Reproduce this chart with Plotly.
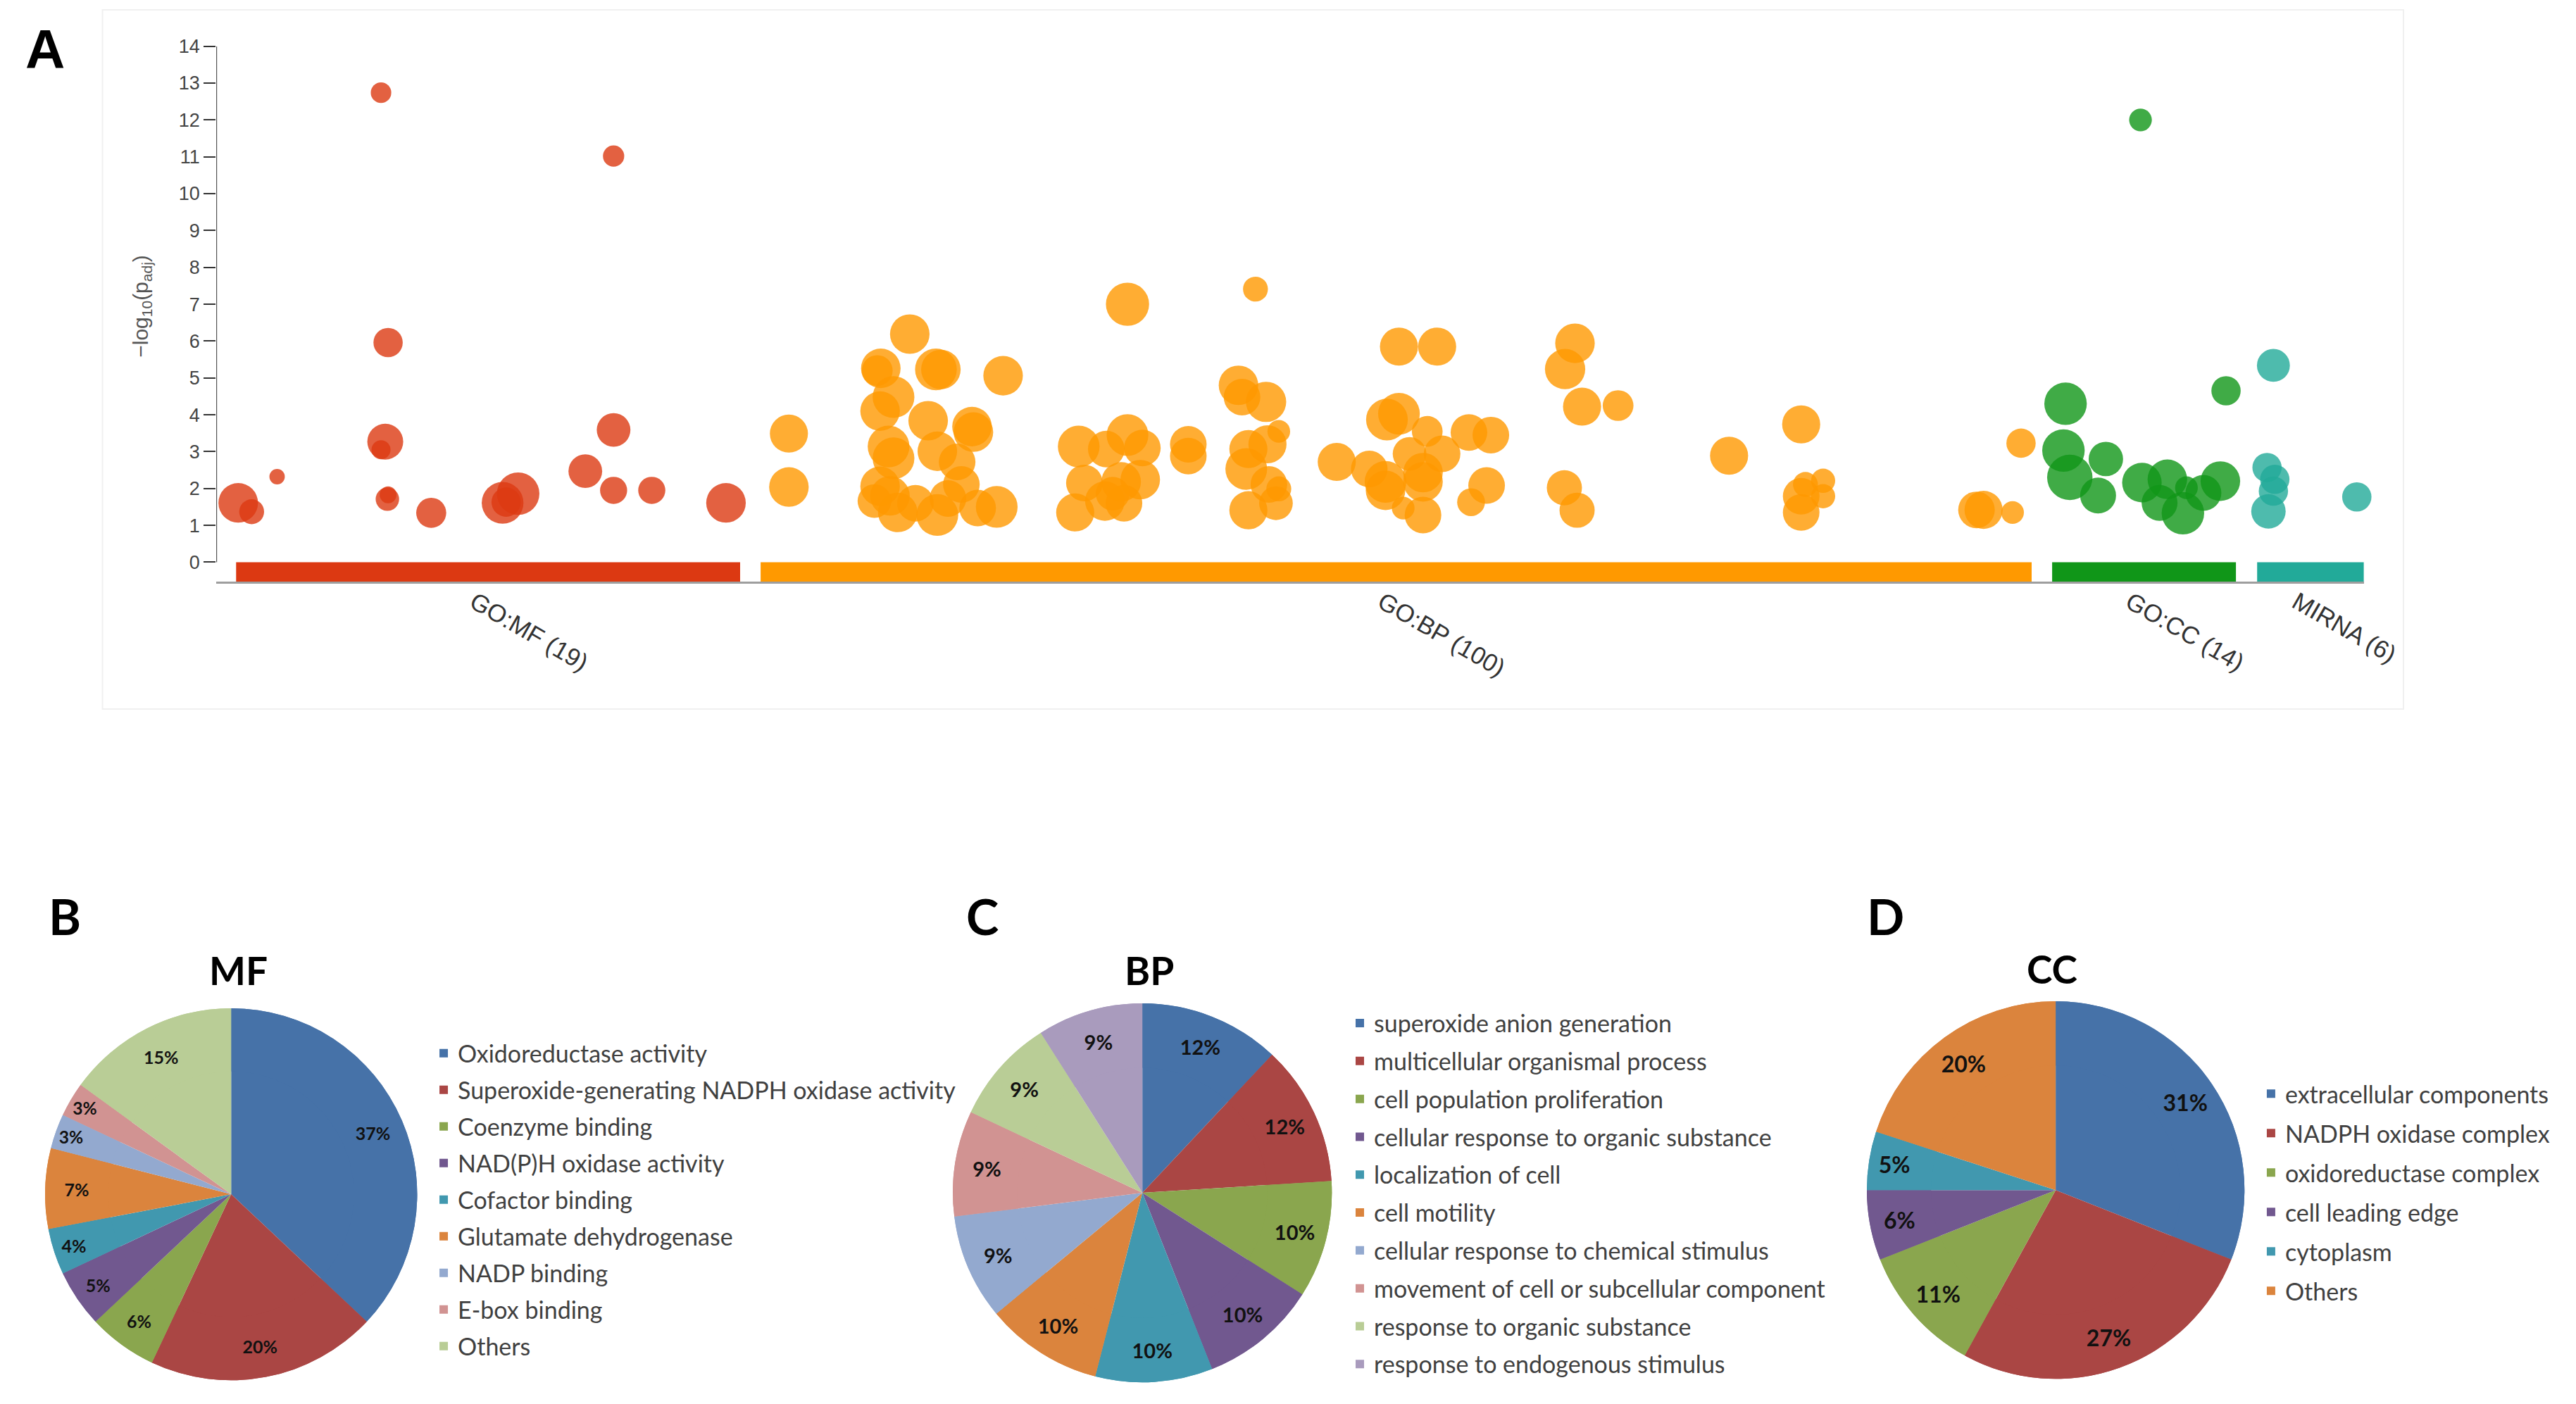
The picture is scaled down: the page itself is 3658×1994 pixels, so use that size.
import plotly.graph_objects as go

W, H = 3658, 1994

# ---------------- Panel A data (Manhattan plot) ----------------
sources = ["GO:MF", "GO:BP", "GO:CC", "MIRNA"]
source_counts = [19, 100, 14, 6]
source_start = [28, 770, 2597, 2887]
source_end = [741, 2568, 2857, 3038]
source_colors = ["#dc3912", "#ff9900", "#109618", "#22aa99"]

mf_pos = [31, 50, 86, 233, 243, 239, 233, 242, 243, 304, 405, 427, 522, 562, 562, 562, 616, 721, 410]
mf_logp = [1.61, 1.37, 2.32, 12.74, 5.96, 3.27, 3.05, 1.71, 1.83, 1.34, 1.61, 1.86, 2.47, 11.02, 3.59, 1.95, 1.95, 1.61, 1.63]
mf_size = [54, 34, 21, 28, 40, 49, 26, 32, 23, 41, 57, 58, 46, 29, 46, 37, 37, 54, 40]

bp_pos = [810, 810, 981, 940, 935, 1018, 1025, 1113, 958, 939, 1007, 1069, 1071, 951, 958, 1020,
          1048, 939, 953, 964, 989, 1020, 1035, 1054, 1077, 1104, 931, 1220, 1259, 1289, 1310, 1228,
          1307, 1280, 1215, 1257, 1284, 1268, 1289,
          1470, 1375, 1375, 1446, 1451, 1485, 1503, 1460, 1487, 1457, 1489, 1503, 1460, 1499, 1673,
          1727, 1585, 1631, 1656, 1673, 1713, 1734, 1654, 1654, 1707, 1707, 1679, 1707, 1688, 1772,
          1803, 1797, 1775,
          1922, 1908, 1932, 1983, 1907, 1925, 2140, 2242, 2273, 2248, 2242, 2273, 2242,
          2490, 2500, 2541, 2553]
bp_logp = [3.49, 2.04, 6.19, 5.26, 5.20, 5.23, 5.23, 5.06, 4.48, 4.10, 3.84, 3.68, 3.53, 3.14, 2.82, 3.01,
           2.72, 2.06, 1.80, 1.35, 1.60, 1.28, 1.73, 2.11, 1.47, 1.50, 1.66, 3.14, 3.07, 3.45, 3.10, 2.15,
           2.24, 2.18, 1.35, 1.66, 1.60, 1.86, 7.00,
           7.41, 3.20, 2.88, 4.80, 4.48, 4.35, 3.55, 3.07, 3.20, 2.53, 2.11, 1.99, 1.41, 1.60, 5.85,
           5.85, 2.72, 2.53, 3.87, 4.03, 3.55, 2.94, 2.18, 1.95, 2.43, 2.18, 1.47, 1.28, 2.94, 3.52,
           3.45, 2.08, 1.63,
           5.94, 5.24, 4.22, 4.25, 2.02, 1.41, 2.89, 3.74, 2.21, 2.11, 1.79, 1.79, 1.35,
           1.42, 1.42, 1.35, 3.23]
bp_size = [52, 54, 54, 54, 42, 57, 54, 54, 57, 54, 54, 54, 54, 57, 57, 54,
           50, 54, 54, 54, 50, 57, 50, 50, 50, 57, 46, 57, 50, 57, 50, 50,
           54, 54, 52, 54, 50, 46, 59,
           34, 50, 50, 54, 50, 55, 31, 52, 52, 57, 50, 34, 52, 46, 52,
           52, 52, 50, 57, 57, 42, 50, 57, 54, 54, 54, 31, 50, 46, 50,
           50, 50, 38,
           54, 55, 52, 42, 48, 48, 52, 52, 33, 34, 50, 33, 50,
           50, 52, 31, 40]

cc_pos = [2722, 2616, 2613, 2622, 2673, 2662, 2724, 2760, 2749, 2782, 2787, 2811, 2835, 2843]
cc_logp = [12.0, 4.30, 3.03, 2.30, 2.80, 1.81, 2.16, 2.25, 1.61, 1.33, 2.02, 1.88, 2.20, 4.65]
cc_size = [31, 58, 58, 62, 47, 49, 54, 54, 49, 58, 31, 49, 54, 40]

mirna_pos = [2910, 2901, 2912, 2910, 2903, 3028]
mirna_logp = [5.34, 2.57, 2.25, 1.93, 1.38, 1.77]
mirna_size = [45, 40, 40, 40, 47, 40]

# ---------------- Panels B-D data (pie charts) ----------------
mf_labels = ["Oxidoreductase activity", "Superoxide-generating NADPH oxidase activity",
             "Coenzyme binding", "NAD(P)H oxidase activity", "Cofactor binding",
             "Glutamate dehydrogenase", "NADP binding", "E-box binding", "Others"]
mf_values = [37, 20, 6, 5, 4, 7, 3, 3, 15]

bp_labels = ["superoxide anion generation", "multicellular organismal process",
             "cell population proliferation", "cellular response to organic substance",
             "localization of cell", "cell motility", "cellular response to chemical stimulus",
             "movement of cell or subcellular component", "response to organic substance",
             "response to endogenous stimulus"]
bp_values = [12, 12, 10, 10, 10, 10, 9, 9, 9, 9]

cc_labels = ["extracellular components", "NADPH oxidase complex", "oxidoreductase complex",
             "cell leading edge", "cytoplasm", "Others"]
cc_values = [31, 27, 11, 6, 5, 20]

pie_palette = ["#4672A8", "#AA4644", "#8AA64E", "#71588F", "#4198AF",
               "#DB843D", "#93A9CF", "#D19392", "#B9CD96", "#A99BBD"]
mf_colors = pie_palette[:8] + [pie_palette[8]]
bp_colors = pie_palette[:10]
cc_colors = pie_palette[:6]

# ---------------- styling / layout helpers ----------------
FONT_A = "Liberation Sans, Arial, Helvetica, sans-serif"
FONT_P = "Lato, Carlito, Calibri, sans-serif"
K = 1.0183                       # horizontal layout scale


def px(x):
    return x * K / W


def py(y):
    return 1 - y / H


AX_BOTTOM, AX_ZERO, AX_TOP = 818, 790, 52          # pixel rows of panel A y axis
UNIT = (AX_ZERO - AX_TOP) / 14.0
Y_MIN = -(AX_BOTTOM - AX_ZERO) / UNIT
Y_MAX = 14.001
SIZE_SCALE = 1.04

fig = go.Figure()

# Manhattan scatter points
for name, pos, lp, sz, col in zip(
        sources,
        [mf_pos, bp_pos, cc_pos, mirna_pos],
        [mf_logp, bp_logp, cc_logp, mirna_logp],
        [mf_size, bp_size, cc_size, mirna_size],
        source_colors):
    fig.add_trace(go.Scatter(
        x=pos, y=lp, mode="markers", name=name, showlegend=False,
        marker=dict(size=[s * SIZE_SCALE for s in sz], color=col, opacity=0.8, line=dict(width=0)),
        cliponaxis=False, hovertemplate=name + "<br>-log10(padj)=%{y}<extra></extra>"))

# source bars along the x axis
for s, e, c in zip(source_start, source_end, source_colors):
    fig.add_shape(type="rect", xref="x", yref="y", x0=s, x1=e, y0=Y_MIN, y1=0,
                  fillcolor=c, line=dict(width=0), layer="below")

# y axis line from 0 to 14
fig.add_shape(type="line", xref="x", yref="y", x0=0, x1=0, y0=0, y1=14,
              line=dict(color="#333333", width=2))

# faint frame of panel A
fig.add_shape(type="rect", xref="paper", yref="paper",
              x0=px(145), x1=px(3400), y0=py(1000), y1=1.0,
              line=dict(color="#f0f0f0", width=2), fillcolor="rgba(0,0,0,0)", layer="below")

tick_centers = [(s + e) / 2 for s, e in zip(source_start, source_end)]
tick_text = [f"{s} ({n})" for s, n in zip(sources, source_counts)]


# pies: a full pie plus an identical ring on top that carries the percentage labels
def pie_dom(cx, cy, r):
    return dict(x=[(cx * K - r) / W, (cx * K + r) / W], y=[py(cy + r), py(cy - r)])


pie_specs = [
    ("MF", mf_labels, mf_values, mf_colors, pie_dom(327, 1694, 268), 25),
    ("BP", bp_labels, bp_values, bp_colors, pie_dom(1616, 1692, 273), 29),
    ("CC", cc_labels, cc_values, cc_colors, pie_dom(2908, 1688, 272), 32),
]
for name, labels, values, colors, dom, fs in pie_specs:
    common = dict(labels=labels, values=values, sort=False, direction="clockwise", rotation=0,
                  marker=dict(colors=colors, line=dict(width=0)), domain=dom, showlegend=False)
    fig.add_trace(go.Pie(name=name, textinfo="none", hoverinfo="label+percent", **common))
    fig.add_trace(go.Pie(name=name + " labels", hole=0.66, textinfo="percent",
                         textposition="inside", insidetextorientation="horizontal",
                         textfont=dict(family=FONT_P, size=fs, color="#111111", weight="bold"),
                         hoverinfo="skip", **common))

# legend entries for the pies (one group per entry to control row spacing)
for leg, key, labels, colors in [("legend", "mf", mf_labels, mf_colors),
                                 ("legend2", "bp", bp_labels, bp_colors),
                                 ("legend3", "cc", cc_labels, cc_colors)]:
    for i, (lab, col) in enumerate(zip(labels, colors)):
        fig.add_trace(go.Scatter(
            x=[None], y=[None], mode="markers", name=lab, legend=leg,
            legendgroup=f"{key}{i}", showlegend=True,
            marker=dict(symbol="square", size=14, color=col), hoverinfo="skip"))

LEG_FS = 34
leg_common = dict(xanchor="left", yanchor="top", bgcolor="rgba(0,0,0,0)",
                  font=dict(family=FONT_P, size=LEG_FS, color="#404040"),
                  itemsizing="constant", traceorder="grouped")
item_h = LEG_FS * 1.3 + 3

annotations = [
    dict(text="<b>A</b>", x=px(64), y=py(56), font=dict(family=FONT_A, size=78, color="black")),
    dict(text="<b>B</b>", x=px(92), y=py(1296), font=dict(family=FONT_P, size=70, color="black")),
    dict(text="<b>C</b>", x=px(1390), y=py(1296), font=dict(family=FONT_P, size=70, color="black")),
    dict(text="<b>D</b>", x=px(2667), y=py(1296), font=dict(family=FONT_P, size=70, color="black")),
    dict(text="<b>MF</b>", x=px(337), y=py(1374), font=dict(family=FONT_P, size=55, color="black")),
    dict(text="<b>BP</b>", x=px(1626), y=py(1374), font=dict(family=FONT_P, size=55, color="black")),
    dict(text="<b>CC</b>", x=px(2903), y=py(1372), font=dict(family=FONT_P, size=55, color="black")),
    dict(text="\u2212log<sub>10</sub>(p<sub>adj</sub>)", x=px(200), y=py(424), textangle=-90,
         font=dict(family=FONT_A, size=30, color="#555555")),
]
for a in annotations:
    a.update(xref="paper", yref="paper", xanchor="center", yanchor="middle", showarrow=False)

fig.update_layout(
    width=W, height=H, autosize=False,
    margin=dict(l=0, r=0, t=0, b=0),
    paper_bgcolor="white", plot_bgcolor="white",
    xaxis=dict(domain=[px(306), px(3344)], range=[0, 3038], showgrid=False, zeroline=False,
               showline=True, linecolor="#9e9e9e", linewidth=3, ticks="",
               tickvals=tick_centers, ticktext=tick_text, tickangle=30,
               ticklabelshift=-20, ticklabelstandoff=-8,
               tickfont=dict(family=FONT_A, size=35, color="#333333"), fixedrange=True),
    yaxis=dict(domain=[py(AX_BOTTOM), py(AX_TOP)], range=[Y_MIN, Y_MAX], showgrid=False,
               zeroline=False, showline=False, ticks="outside", ticklen=17, tickwidth=2,
               tickcolor="#333333", tickmode="linear", tick0=0, dtick=1,
               tickfont=dict(family=FONT_A, size=27, color="#444444"), fixedrange=True),
    legend=dict(x=(647 * K - 40) / W, y=py(1492 - item_h / 2 - 5),
                tracegroupgap=52 - item_h, **leg_common),
    legend2=dict(x=(1943 * K - 40) / W, y=py(1449 - item_h / 2 - 5),
                 tracegroupgap=53.8 - item_h, **leg_common),
    legend3=dict(x=(3232 * K - 40) / W, y=py(1550 - item_h / 2 - 5),
                 tracegroupgap=56 - item_h, **leg_common),
    annotations=annotations,
)

fig.write_html("out.html", include_plotlyjs=True, config={"displayModeBar": False},
               post_script="document.body.style.margin='0';document.body.style.overflow='hidden';")
